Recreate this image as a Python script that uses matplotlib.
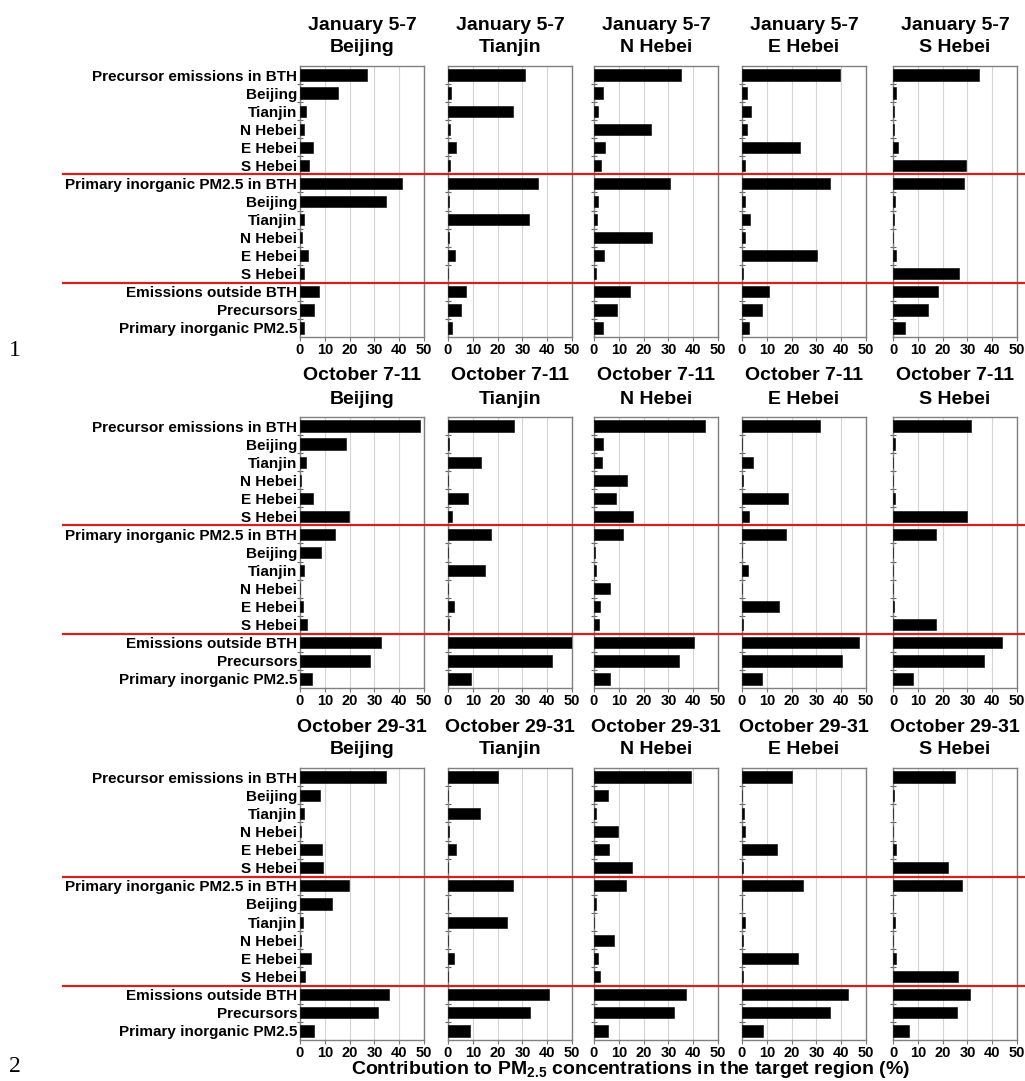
import matplotlib
matplotlib.use("Agg")
import matplotlib.pyplot as plt
from matplotlib.lines import Line2D
from matplotlib.transforms import blended_transform_factory

plt.rcParams['font.family'] = ['Liberation Sans', 'DejaVu Sans']
plt.rcParams['font.weight'] = 'bold'
plt.rcParams['mathtext.fontset'] = 'custom'
plt.rcParams['mathtext.rm'] = 'Liberation Sans:bold'
plt.rcParams['mathtext.bf'] = 'Liberation Sans:bold'

categories = [
    "Precursor emissions in BTH", "Beijing", "Tianjin", "N Hebei", "E Hebei", "S Hebei",
    "Primary inorganic PM2.5 in BTH", "Beijing", "Tianjin", "N Hebei", "E Hebei", "S Hebei",
    "Emissions outside BTH", "Precursors", "Primary inorganic PM2.5",
]
periods = ["January 5-7", "October 7-11", "October 29-31"]
regions = ["Beijing", "Tianjin", "N Hebei", "E Hebei", "S Hebei"]
xticks = [0, 10, 20, 30, 40, 50]

# Contribution (%) of each source to PM2.5 in the target region
jan_beijing = [26.9, 15.5, 2.4, 1.6, 5.1, 3.5, 41.1, 34.7, 1.6, 0.7, 3.4, 1.5, 7.7, 5.6, 1.5]
jan_tianjin = [31.0, 1.3, 26.1, 0.8, 3.4, 0.7, 36.4, 0.5, 32.8, 0.4, 2.7, 0.1, 7.3, 5.1, 1.7]
jan_nhebei = [34.9, 3.6, 1.7, 23.0, 4.4, 2.8, 30.8, 1.6, 1.1, 23.4, 4.0, 0.8, 14.4, 9.4, 3.6]
jan_ehebei = [39.4, 1.9, 3.5, 2.2, 23.5, 1.3, 35.3, 1.3, 3.1, 1.1, 30.1, 0.4, 10.8, 7.9, 2.8]
jan_shebei = [34.8, 1.1, 0.4, 0.5, 2.2, 29.6, 28.8, 0.7, 0.3, 0.1, 1.2, 26.7, 18.1, 14.1, 4.7]

oct7_beijing = [48.3, 18.4, 2.3, 0.5, 5.4, 19.8, 14.1, 8.6, 1.6, 0.1, 1.3, 2.8, 32.6, 28.4, 4.8]
oct7_tianjin = [26.7, 0.5, 13.3, 0.1, 8.1, 1.6, 17.5, 0.1, 14.8, 0.05, 2.4, 0.3, 50.0, 42.1, 9.3]
oct7_nhebei = [44.7, 3.6, 3.2, 13.3, 9.0, 15.9, 11.5, 0.4, 0.7, 6.6, 2.4, 1.9, 40.2, 34.4, 6.6]
oct7_ehebei = [31.3, 0.05, 4.3, 0.5, 18.7, 3.0, 17.7, 0.1, 2.3, 0.05, 15.1, 0.5, 47.3, 40.3, 8.1]
oct7_shebei = [31.6, 0.7, 0.0, 0.0, 0.9, 30.0, 17.5, 0.0, 0.0, 0.0, 0.3, 17.5, 43.9, 36.8, 8.1]

oct29_beijing = [34.6, 8.2, 1.7, 0.5, 9.0, 9.1, 19.6, 12.9, 1.2, 0.3, 4.3, 2.0, 35.7, 31.5, 5.6]
oct29_tianjin = [20.1, 0.1, 12.8, 0.3, 3.1, 0.1, 26.4, 0.1, 23.9, 0.1, 2.3, 0.1, 40.7, 33.2, 8.9]
oct29_nhebei = [39.0, 5.8, 0.7, 9.8, 5.9, 15.3, 13.0, 0.9, 0.1, 8.2, 1.5, 2.6, 37.2, 32.3, 5.8]
oct29_ehebei = [20.1, 0.1, 0.8, 1.1, 14.2, 0.5, 24.4, 0.1, 1.1, 0.5, 22.4, 0.3, 42.6, 35.5, 8.6]
oct29_shebei = [25.1, 0.4, 0.0, 0.0, 1.2, 22.2, 27.7, 0.0, 0.7, 0.0, 1.2, 26.2, 31.0, 25.9, 6.6]

panels = [
    [jan_beijing, jan_tianjin, jan_nhebei, jan_ehebei, jan_shebei],
    [oct7_beijing, oct7_tianjin, oct7_nhebei, oct7_ehebei, oct7_shebei],
    [oct29_beijing, oct29_tianjin, oct29_nhebei, oct29_ehebei, oct29_shebei],
]

W, H = 1025, 1081
fig = plt.figure(figsize=(W / 100, H / 100), dpi=100)

col_left = [300, 448, 594, 742, 893]
col_width = 124
row_span = [(66, 337), (417, 688), (768, 1040)]

n = len(categories)
ypos = list(range(n))

for r, (top, bottom) in enumerate(row_span):
    for c, left in enumerate(col_left):
        ax = fig.add_axes([left / W, 1 - bottom / H, col_width / W, (bottom - top) / H])
        vals = panels[r][c]
        ax.barh(ypos, vals, height=0.62, color='black', edgecolor='black', linewidth=0.4, zorder=3)
        ax.set_xlim(0, 50)
        ax.set_ylim(n - 0.5, -0.5)
        ax.set_xticks(xticks)
        ax.set_xticklabels([str(t) for t in xticks], fontsize=10.5, fontweight='bold')
        ax.tick_params(axis='x', length=3, width=0.8, color='#777777', pad=1.5)
        ax.set_yticks(ypos)
        ax.set_yticks([k + 0.5 for k in range(n - 1)], minor=True)
        ax.tick_params(axis='y', which='major', length=0, pad=2)
        ax.tick_params(axis='y', which='minor', length=4, width=0.8, direction='inout', color='#666666')
        if c == 0:
            ax.set_yticklabels(categories, fontsize=11, fontweight='bold')
        else:
            ax.set_yticklabels([])
        ax.grid(axis='x', color='#d4d4d4', linewidth=0.8, zorder=0)
        for s in ax.spines.values():
            s.set_color('#808080')
            s.set_linewidth(1.0)
        ax.set_axisbelow(True)

        cx = (left + col_width / 2) / W
        fig.text(cx, 1 - (top - 41) / H, periods[r], ha='center', va='center',
                 fontsize=14, fontweight='bold')
        fig.text(cx, 1 - (top - 18) / H, regions[c], ha='center', va='center',
                 fontsize=14, fontweight='bold')

        if c == 0:
            tr = blended_transform_factory(fig.transFigure, ax.transData)
            for yb in (5.5, 11.5):
                fig.add_artist(Line2D([63 / W, 1.0], [yb, yb], transform=tr,
                                      color='#d62020', linewidth=1.6, zorder=10))

fig.text(631 / W, 1 - 1070 / H,
         r"Contribution to PM$_{\mathbf{2.5}}$ concentrations in the target region (%)",
         ha='center', va='center', fontsize=14, fontweight='bold')

fig.text(15 / W, 1 - 350 / H, "1", family='Liberation Serif', fontweight='normal',
         fontsize=17, ha='center', va='center')
fig.text(15 / W, 1 - 1067 / H, "2", family='Liberation Serif', fontweight='normal',
         fontsize=17, ha='center', va='center')

fig.savefig("out.png", dpi=100, facecolor='white')
